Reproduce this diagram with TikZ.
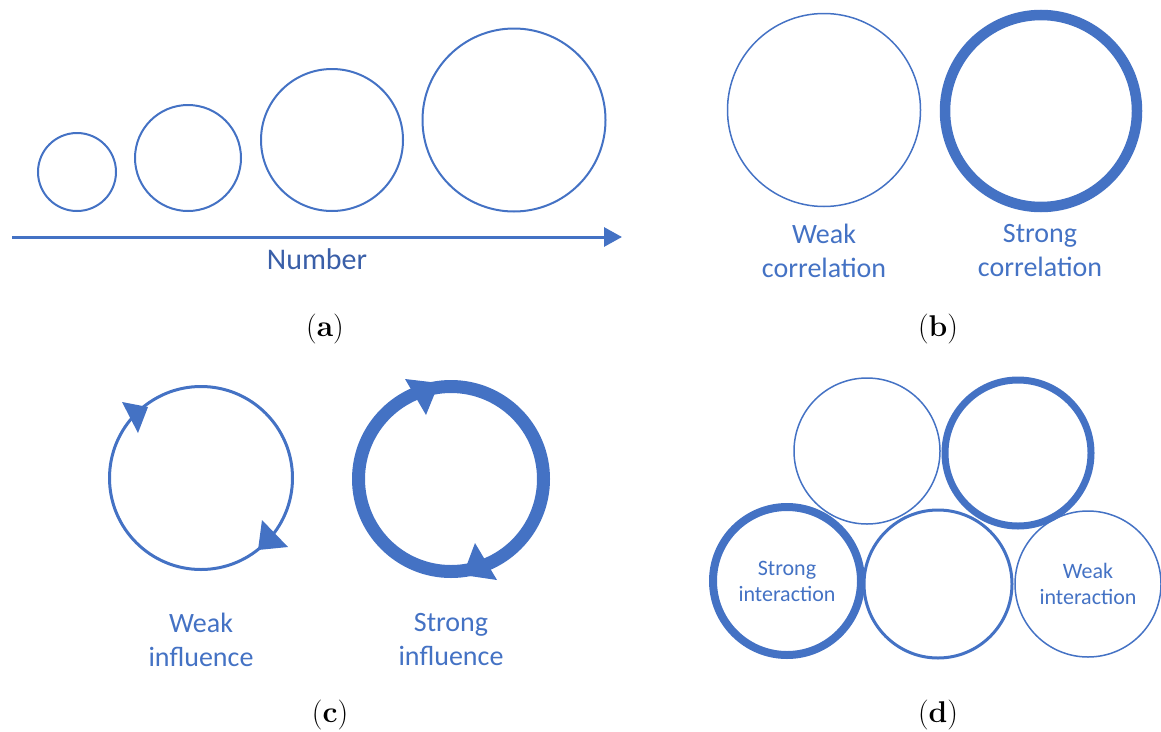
\documentclass[tikz,border=0pt]{standalone}
\usepackage{fontspec}
\newfontfamily\calibri{Carlito}
\usetikzlibrary{arrows.meta}
\definecolor{officeblue}{HTML}{4472C4}
\definecolor{darkblue}{HTML}{3A5FA8}

\begin{document}
\begin{tikzpicture}[x=1pt,y=-1pt]
\tikzstyle{ring}=[circle,draw=officeblue,inner sep=0pt,outer sep=0pt]
\tikzstyle{caption}=[text=officeblue,align=center,font=\calibri\fontsize{28}{34}\selectfont]
\tikzstyle{incaption}=[text=officeblue,align=center,font=\calibri\fontsize{22}{26}\selectfont]
\tikzstyle{panel}=[font=\fontsize{30}{36}\selectfont]
\tikzstyle{axis}=[draw=officeblue,line width=3pt,-{Triangle[length=18pt,width=19pt]}]
\useasboundingbox (0,0) rectangle (1161,731);

% (a) number
\node[ring,line width=2pt,minimum size=78pt] (n1) at (77,172) {};
\node[ring,line width=2pt,minimum size=106pt] (n2) at (188,158) {};
\node[ring,line width=2pt,minimum size=142pt] (n3) at (332,140) {};
\node[ring,line width=2pt,minimum size=183pt] (n4) at (514,120) {};
\coordinate (ax0) at (12,237);
\coordinate (ax1) at (622,237);
\draw[axis] (ax0) -- (ax1);
\node[caption,text=darkblue,font=\calibri\fontsize{30}{36}\selectfont] (num) at (317,259) {Number};
\node[panel] (pa) at (325,329) {(\textbf{a})};

% (b) correlation
\node[ring,line width=1.5pt,minimum size=193pt] (wc) at (824,110) {};
\node[ring,line width=10.5pt,minimum size=192pt] (sc) at (1041,111) {};
\node[caption] (wct) at (824,251) {Weak\\correlation};
\node[caption] (sct) at (1040,251) {Strong\\correlation};
\node[panel] (pb) at (938,329) {(\textbf{b})};

% (c) influence
\node[ring,line width=3pt,minimum size=183pt] (wi) at (201,478) {};
\node[ring,line width=13pt,minimum size=185pt] (si) at (451,479) {};
\fill[officeblue] (148,407) -- (122,402) -- (138,433) -- cycle;
\fill[officeblue] (258,550) -- (262,520) -- (288,547) -- cycle;
\fill[officeblue] (439,383) -- (405,379) -- (426,415) -- cycle;
\fill[officeblue] (463,575) -- (475,543) -- (497,580) -- cycle;
\node[caption] (wit) at (201,640) {Weak\\influence};
\node[caption] (sit) at (451,640) {Strong\\influence};
\node[panel] (pc) at (330,715) {(\textbf{c})};

% (d) interaction
\node[ring,line width=1.5pt,minimum size=146pt] (d1) at (867,451) {};
\node[ring,line width=7pt,minimum size=146pt] (d2) at (1018,453) {};
\node[ring,line width=8pt,minimum size=148pt,incaption] (d3) at (787,581) {Strong\\interaction};
\node[ring,line width=3pt,minimum size=148pt] (d4) at (938,584) {};
\node[ring,line width=1.5pt,minimum size=146pt,incaption] (d5) at (1088,584) {Weak\\interaction};
\node[panel] (pd) at (938,715) {(\textbf{d})};
\end{tikzpicture}
\end{document}
